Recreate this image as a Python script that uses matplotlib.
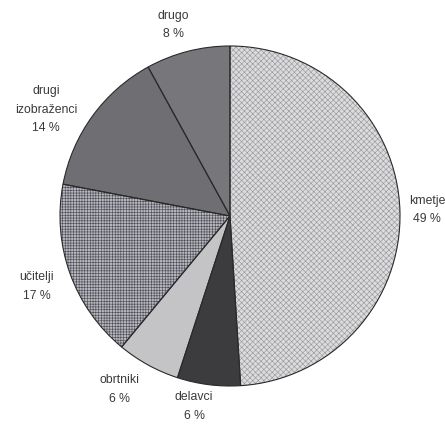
import matplotlib
matplotlib.use("Agg")
import matplotlib.pyplot as plt
import numpy as np

# Data
labels = ["kmetje", "delavci", "obrtniki", "učitelji", "drugi\nizobraženci", "drugo"]
shares = [49, 6, 6, 17, 14, 8]

# Styling per slice
face_colors = ["#dcdcde", "#3c3c3e", "#c4c4c6", "#b8b8bc", "#6f6f73", "#77777b"]
hatch_colors = ["#9a9a9e", "#3c3c3e", "#c4c4c6", "#50505c", "#6f6f73", "#77777b"]
hatches = ["xxxxxx", None, None, "++++++", None, None]

# Label anchors as (angle in degrees, distance in radii)
label_spots = [(1.7, 1.16), (-100.7, 1.14), (-122.5, 1.21), (-160.0, 1.21),
               (150.0, 1.25), (106.5, 1.17)]

plt.rcParams["font.family"] = ["Liberation Sans", "DejaVu Sans"]
plt.rcParams["hatch.linewidth"] = 0.45

fig = plt.figure(figsize=(4.45, 4.25), dpi=100)
ax = fig.add_axes([0.0, 0.0, 1.0, 1.0])

wedges, _ = ax.pie(shares, startangle=90, counterclock=False, radius=1.0,
                   colors=face_colors, center=(0, 0))
for w, hc, h in zip(wedges, hatch_colors, hatches):
    w.set_edgecolor(hc)
    w.set_linewidth(0)
    if h:
        w.set_hatch(h)

# outlines
ax.pie(shares, startangle=90, counterclock=False, radius=1.0,
       colors=["none"] * len(shares), center=(0, 0),
       wedgeprops=dict(edgecolor="#2a2a2a", linewidth=0.8, facecolor="none"))

for lab, pct, (ang, dist) in zip(labels, shares, label_spots):
    a = np.deg2rad(ang)
    ax.text(dist * np.cos(a), dist * np.sin(a), f"{lab}\n{pct} %",
            ha="center", va="center", fontsize=8.8, color="#3a3a3a",
            linespacing=1.7)

# pie center at (230, 216) px, radius ~170 px
r = 170
cx, cy = 230, 216
ax.set_xlim(-cx / r, (445 - cx) / r)
ax.set_ylim(-(425 - cy) / r, cy / r)
ax.set_aspect("auto")
ax.axis("off")

fig.savefig("out.png", dpi=100)
